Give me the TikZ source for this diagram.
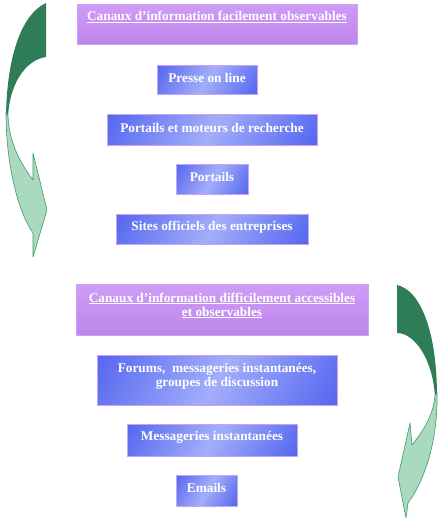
\documentclass[tikz,border=0pt]{standalone}
\usepackage{tikz}
\usepackage{fontspec}
\setmainfont{Liberation Serif}
\definecolor{purpleA}{HTML}{CE9CF5}
\definecolor{purpleB}{HTML}{BE86EC}
\definecolor{blueL}{HTML}{A2AEFA}
\definecolor{blueD}{HTML}{4C5EEE}
\definecolor{boxborder}{HTML}{C9A2F2}
\definecolor{greenD}{HTML}{2E7D57}
\definecolor{greenL}{HTML}{A9D9BE}
\definecolor{greenO}{HTML}{3E9A6C}
\pgfdeclarehorizontalshading{bluebands}{100bp}{color(0bp)=(blueL); color(12bp)=(blueD); color(50bp)=(blueL); color(88bp)=(blueD); color(100bp)=(blueL)}
\newcommand{\up}[2]{\raisebox{#1}[\height][\depth]{#2}}
\begin{document}
\begin{tikzpicture}[x=1pt,y=-1pt,
  lbl/.style={text=white, font=\fontsize{13.3}{14}\selectfont\bfseries, align=center, inner sep=0pt},
  titlebox/.style={lbl, draw=boxborder, line width=0.8pt, top color=purpleA, bottom color=purpleB},
  itembox/.style={lbl, draw=boxborder, line width=1pt, shading=bluebands, shading angle=-30},
  backpart/.style={fill=greenD},
  frontpart/.style={draw=greenO, fill=greenL, line width=0.6pt, line join=round}]
\useasboundingbox (0,0) rectangle (440,520);

% boxes
\node[titlebox, minimum width=280pt, minimum height=40pt] (t1) at (217,24)
  {\up{7pt}{\underline{Canaux d’information facilement observables}}};
\node[itembox, minimum width=100pt, minimum height=29pt] (b1) at (207,79.5) {\up{2pt}{Presse on line}};
\node[itembox, minimum width=210pt, minimum height=31pt] (b2) at (212,129.5) {\up{2pt}{Portails et moteurs de recherche}};
\node[itembox, minimum width=72pt, minimum height=30pt] (b3) at (212,179) {\up{2pt}{Portails}};
\node[itembox, minimum width=192pt, minimum height=30pt] (b4) at (212,229) {\up{2pt}{Sites officiels des entreprises}};

\node[titlebox, minimum width=292pt, minimum height=51pt] (t2) at (222,309.5)
  {\up{4pt}{\underline{Canaux d’information difficilement accessibles}}\\\up{4pt}{\underline{et observables}}};
\node[itembox, minimum width=240pt, minimum height=50pt] (b5) at (217,380)
  {\up{4pt}{Forums,\ \ messageries instantanées,}\\\up{4pt}{groupes de discussion}};
\node[itembox, minimum width=170pt, minimum height=32pt] (b6) at (212,440) {\up{3pt}{Messageries instantanées}};
\node[itembox, minimum width=61pt, minimum height=31pt] (b7) at (206.5,490.5) {\up{3pt}{Emails}};

% left curved arrow
\fill[backpart] (46,3) -- (46,57) .. controls (25,60) and (9,85) .. (8,118)
  -- (6,115) .. controls (7,60) and (20,15) .. (46,3) -- cycle;
\draw[frontpart] (6,112) .. controls (6,170) and (20,215) .. (33,233) -- (33,257) -- (47,210)
  -- (33,153) -- (33,180) .. controls (18,160) and (9,140) .. (8,116) -- cycle;

% right curved arrow
\fill[backpart] (397,285) .. controls (420,290) and (437,330) .. (437,397)
  -- (435,397) .. controls (433,360) and (415,333) .. (397,333) -- cycle;
\draw[frontpart] (437,393) .. controls (438,440) and (425,480) .. (408,503) -- (406,518) -- (398,477)
  -- (410,423) -- (412,445) .. controls (428,425) and (434,410) .. (435,395) -- cycle;
\end{tikzpicture}
\end{document}
